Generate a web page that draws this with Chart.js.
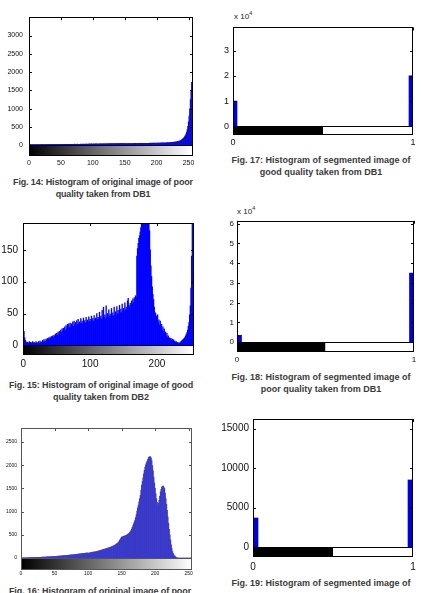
<!DOCTYPE html>
<html>
<head>
<meta charset="utf-8">
<script src="https://cdn.jsdelivr.net/npm/chart.js@4.4.1/dist/chart.umd.min.js"></script>
<style>
  body { margin: 0; width: 421px; height: 593px; overflow: hidden; background: #fff; position: relative; font-family: "Liberation Sans", Arial, sans-serif; }
  canvas { position: absolute; }
  .cap { position: absolute; width: 200px; font-weight: bold; font-size: 9px; line-height: 12px; color: #3a3a3a; text-align: center; white-space: nowrap; }
  .exp { position: absolute; font-size: 8px; color: #222; }
  .exp sup { font-size: 5.5px; }
</style>
</head>
<body>
<div class="cap" style="left:3px;top:176px;letter-spacing:-0.15px">Fig. 14: Histogram of original image of poor<br>quality taken from DB1</div>
<div class="cap" style="left:221px;top:154px">Fig. 17: Histogram of segmented image of<br>good quality taken from DB1</div>
<div class="cap" style="left:1px;top:379px;letter-spacing:-0.1px">Fig. 15: Histogram of original image of good<br>quality taken from DB2</div>
<div class="cap" style="left:221px;top:371px">Fig. 18: Histogram of segmented image of<br>poor quality taken from DB1</div>
<div class="cap" style="left:0px;top:585px;letter-spacing:-0.1px">Fig. 16: Histogram of original image of poor</div>
<div class="cap" style="left:221px;top:577px">Fig. 19: Histogram of segmented image of</div>
<div class="exp" style="left:234px;top:10px">x 10<sup>4</sup></div>
<div class="exp" style="left:237px;top:205px">x 10<sup>4</sup></div>

<script>
// gray levels and binary levels
const grayLevels = Array.from({length: 256}, (_, i) => i);
const binLevels = [0, 1];

// Fig. 14: original image, poor quality, DB1
const poorDb1Counts = [
  18, 22, 15, 20, 24, 17, 21, 19, 23, 16,
  20, 25, 18, 22, 19, 24, 21, 17, 23, 20,
  22, 19, 25, 21, 18, 24, 20, 23, 26, 19,
  21, 25, 22, 27, 20, 24, 23, 19, 26, 22,
  25, 21, 27, 23, 24, 28, 22, 26, 25, 29,
  23, 27, 25, 30, 24, 28, 26, 31, 25, 29,
  27, 24, 30, 28, 26, 32, 27, 29, 31, 26,
  30, 28, 33, 27, 31, 29, 34, 28, 32, 30,
  29, 33, 31, 35, 30, 34, 32, 36, 31, 35,
  33, 38, 32, 36, 35, 39, 33, 37, 40, 34,
  38, 36, 41, 35, 39, 37, 42, 36, 40, 38,
  37, 41, 39, 43, 38, 42, 40, 44, 39, 43,
  41, 45, 40, 44, 43, 47, 42, 46, 44, 48,
  43, 47, 45, 49, 44, 48, 46, 50, 45, 49,
  47, 51, 46, 50, 49, 53, 48, 52, 50, 54,
  44, 48, 46, 50, 45, 49, 47, 51, 46, 50,
  48, 52, 47, 51, 50, 54, 49, 53, 51, 55,
  50, 54, 52, 56, 51, 55, 53, 57, 52, 56,
  54, 58, 53, 57, 55, 59, 54, 58, 56, 60,
  55, 60, 58, 62, 57, 61, 60, 64, 59, 63,
  58, 63, 61, 65, 60, 66, 62, 67, 64, 68,
  63, 69, 66, 70, 65, 72, 68, 74, 70, 76,
  72, 78, 75, 82, 78, 86, 82, 90, 86, 95,
  92, 100, 98, 108, 105, 118, 115, 128, 130, 145,
  165, 180, 195, 215, 240, 270, 310, 360, 430, 520,
  640, 800, 1000, 1250, 1500, 1720
];

// Fig. 15: original image, good quality, DB2
const goodDb2Counts = [
  75, 22, 12, 8, 6, 4, 5, 3, 4, 6,
  3, 5, 4, 2, 6, 3, 5, 4, 3, 6,
  4, 3, 5, 6, 3, 7, 4, 5, 6, 8,
  5, 9, 7, 6, 10, 8, 11, 9, 12, 10,
  13, 11, 14, 12, 15, 13, 16, 14, 18, 15,
  19, 16, 21, 17, 22, 19, 24, 20, 26, 22,
  27, 23, 29, 24, 31, 26, 33, 27, 34, 28,
  35, 29, 34, 31, 37, 30, 38, 32, 36, 31,
  39, 33, 41, 34, 37, 33, 42, 35, 38, 34,
  43, 36, 39, 35, 44, 37, 40, 36, 45, 38,
  41, 37, 46, 39, 42, 38, 47, 40, 43, 39,
  50, 41, 44, 40, 52, 42, 46, 41, 55, 43,
  60, 44, 48, 42, 62, 45, 50, 43, 56, 46,
  49, 45, 58, 47, 51, 46, 60, 48, 53, 47,
  61, 50, 55, 49, 63, 52, 57, 51, 65, 54,
  58, 53, 67, 56, 60, 55, 70, 74, 63, 60,
  66, 62, 70, 65, 73, 68, 75, 72, 78, 76,
  140, 152, 160, 168, 172, 178, 185, 190, 205, 230,
  260, 290, 310, 300, 280, 255, 235, 215, 198, 180,
  150, 125, 108, 92, 80, 72, 60, 52, 50, 46,
  44, 48, 36, 40, 32, 38, 28, 33, 24, 29,
  22, 26, 18, 21, 15, 19, 13, 15, 11, 12,
  10, 11, 8, 10, 7, 9, 6, 7, 5, 6,
  5, 4, 4, 3, 4, 5, 6, 7, 8, 9,
  10, 11, 13, 15, 18, 20, 24, 30, 36, 48,
  62, 90, 140, 200, 240, 260
];

// Fig. 16: original image, poor quality, DB2
const poorDb2Counts = [
  2, 3, 4, 4, 5, 5, 6, 6, 7, 7,
  8, 8, 9, 9, 10, 10, 11, 11, 12, 12,
  13, 13, 14, 14, 15, 16, 16, 17, 18, 18,
  19, 20, 20, 21, 22, 23, 23, 24, 25, 26,
  27, 28, 28, 29, 30, 31, 32, 33, 34, 35,
  36, 37, 38, 39, 40, 41, 42, 44, 45, 46,
  47, 48, 50, 51, 52, 54, 55, 56, 58, 59,
  60, 62, 63, 64, 66, 68, 69, 71, 72, 74,
  76, 77, 79, 81, 83, 85, 87, 88, 90, 92,
  94, 96, 98, 100, 102, 104, 106, 108, 110, 112,
  105, 108, 112, 115, 118, 121, 124, 127, 130, 133,
  130, 134, 138, 142, 146, 150, 154, 158, 162, 167,
  172, 176, 181, 186, 190, 195, 200, 206, 211, 216,
  215, 221, 227, 233, 239, 245, 252, 258, 265, 272,
  280, 290, 300, 312, 322, 335, 355, 380, 405, 430,
  450, 458, 464, 470, 474, 478, 484, 492, 500, 510,
  520, 535, 552, 570, 595, 625, 660, 700, 740, 780,
  820, 870, 935, 1010, 1080, 1140, 1210, 1280, 1350, 1460,
  1570, 1650, 1730, 1815, 1890, 1960, 2010, 2050, 2085, 2120,
  2160, 2175, 2185, 2180, 2160, 2100, 1990, 1880, 1745, 1620,
  1500, 1390, 1280, 1200, 1140, 1180, 1245, 1330, 1425, 1480,
  1530, 1545, 1550, 1530, 1500, 1400, 1280, 1160, 1030, 890,
  750, 620, 500, 390, 285, 205, 140, 100, 70, 50,
  35, 22, 10, 5, 2, 0, 0, 0, 0, 0,
  0, 0, 0, 0, 0, 0, 0, 0, 0, 0,
  0, 0, 0, 0, 0, 0
];

// Figs. 17-19: segmented (binary) images
const goodDb1SegCounts = [10000, 20000];
const poorDb1SegCounts = [3500, 35000];
const poorDb2SegCounts = [3700, 8500];

// tick labels
const grayTicks50 = [0, 50, 100, 150, 200, 250];
const grayTicks100 = [0, 100, 200];
const binTicks = [0, 1];
const fig14YTicks = [0, 500, 1000, 1500, 2000, 2500, 3000];
const fig15YTicks = [0, 50, 100, 150];
const fig16YTicks = [0, 500, 1000, 1500, 2000, 2500];
const fig17YTicks = [0, 10000, 20000, 30000];
const fig18YTicks = [0, 10000, 20000, 30000, 40000, 50000, 60000];
const fig19YTicks = [0, 5000, 10000, 15000];

// matlab style box, inward ticks and colour bar under zero
const frame = {
  id: 'frame',
  afterDatasetsDraw(chart, args, opts) {
    const {ctx, chartArea: a, scales: {x, y}} = chart;
    const y0 = Math.round(y.getPixelForValue(0));
    ctx.save();
    if (opts.bar === 'gray') {
      const g = ctx.createLinearGradient(x.getPixelForValue(0), 0, x.getPixelForValue(255), 0);
      g.addColorStop(0, '#000');
      g.addColorStop(1, '#fff');
      ctx.fillStyle = g;
      ctx.fillRect(a.left, y0, a.right - a.left, a.bottom - y0);
    } else {
      const xm = x.getPixelForValue(0.5);
      ctx.fillStyle = '#000';
      ctx.fillRect(a.left, y0, xm - a.left, a.bottom - y0);
      ctx.fillStyle = '#fff';
      ctx.fillRect(xm, y0, a.right - xm, a.bottom - y0);
    }
    ctx.strokeStyle = opts.edge;
    ctx.lineWidth = 1;
    ctx.beginPath();
    ctx.moveTo(a.left, y0 + 0.5);
    ctx.lineTo(a.right, y0 + 0.5);
    y.ticks.forEach(t => {
      const p = Math.round(y.getPixelForValue(t.value)) + 0.5;
      ctx.moveTo(a.left, p); ctx.lineTo(a.left + 3, p);
      ctx.moveTo(a.right - 3, p); ctx.lineTo(a.right, p);
    });
    x.ticks.forEach(t => {
      const p = Math.round(x.getPixelForValue(t.value)) + 0.5;
      ctx.moveTo(p, a.top); ctx.lineTo(p, a.top + 3);
    });
    ctx.stroke();
    ctx.strokeRect(Math.round(a.left) + 0.5, Math.round(a.top) + 0.5,
      Math.round(a.right - a.left) - 1, Math.round(a.bottom - a.top) - 1);
    ctx.restore();
  }
};

const panels = [
  {L: 29, R: 193, T: 13, B: 156, yw: 29, xMin: 0, xMax: 257, yMin: -290, yMax: 3500,
   levels: grayLevels, counts: poorDb1Counts, xTicks: grayTicks50, yTicks: fig14YTicks,
   color: '#0a0ad2', bar: 'gray', font: 7, xPad: 3, yPad: 6, edge: '#000'},
  {L: 233, R: 413, T: 24, B: 135, yw: 30, xMin: 0, xMax: 1, yMin: -3460, yMax: 39200,
   levels: binLevels, counts: goodDb1SegCounts, xTicks: binTicks, yTicks: fig17YTicks, exp: true,
   color: '#0000d8', bar: 'bin', thick: 8, font: 9, xPad: 2, yPad: 4, edge: '#000'},
  {L: 23, R: 194, T: 218, B: 355, yw: 23, xMin: -0.5, xMax: 255.5, yMin: -15, yMax: 192,
   levels: grayLevels, counts: goodDb2Counts, xTicks: grayTicks100, yTicks: fig15YTicks,
   color: '#0000ff', bar: 'gray', font: 10, xPad: 3, yPad: 5, edge: '#000'},
  {L: 237, R: 414, T: 219, B: 352, yw: 30, xMin: 0, xMax: 1, yMin: -5000, yMax: 61500,
   levels: binLevels, counts: poorDb1SegCounts, xTicks: binTicks, yTicks: fig18YTicks, exp: true,
   color: '#0000d8', bar: 'bin', thick: 9, font: 8, xPad: 3, yPad: 3, edge: '#000'},
  {L: 21, R: 192, T: 427, B: 570, yw: 21, xMin: 0, xMax: 255, yMin: -256, yMax: 2800,
   levels: grayLevels, counts: poorDb2Counts, xTicks: grayTicks50, yTicks: fig16YTicks,
   color: '#3a3ac8', bar: 'gray', font: 5, xPad: 1, yPad: 4, edge: '#555'},
  {L: 253, R: 413, T: 415, B: 557, yw: 40, xMin: 0, xMax: 1, yMin: -1230, yMax: 16200,
   levels: binLevels, counts: poorDb2SegCounts, xTicks: binTicks, yTicks: fig19YTicks,
   color: '#0000d8', bar: 'bin', thick: 10, font: 10, xPad: 4, yPad: 4, edge: '#000'}
];

const pt = 6, pr = 12, xh = 18;

panels.forEach(p => {
  const c = document.createElement('canvas');
  c.width = p.yw + (p.R - p.L) + pr;
  c.height = pt + (p.B - p.T) + xh;
  c.style.left = (p.L - p.yw) + 'px';
  c.style.top = (p.T - pt) + 'px';
  document.body.appendChild(c);

  const font = {family: '"Liberation Sans", Arial, sans-serif', size: p.font};
  new Chart(c, {
    type: 'bar',
    data: {
      datasets: [{
        data: p.levels.map((lv, i) => ({x: lv, y: p.counts[i]})),
        backgroundColor: p.color,
        borderWidth: 0,
        barPercentage: 1,
        categoryPercentage: 1,
        barThickness: p.thick,
        clip: 0
      }]
    },
    options: {
      responsive: false,
      animation: false,
      layout: {padding: {top: pt, right: pr, left: 0, bottom: 0}},
      plugins: {legend: {display: false}, tooltip: {enabled: false}, frame: {bar: p.bar, edge: p.edge}},
      scales: {
        x: {
          type: 'linear', offset: false, min: p.xMin, max: p.xMax,
          grid: {display: false, drawTicks: false}, border: {display: false},
          afterBuildTicks: s => { s.ticks = p.xTicks.map(v => ({value: v})); },
          afterFit: s => { s.height = xh; },
          ticks: {font, color: '#111', padding: p.xPad, maxRotation: 0, autoSkip: false, callback: v => String(v)}
        },
        y: {
          min: p.yMin, max: p.yMax,
          grid: {display: false, drawTicks: false}, border: {display: false},
          afterBuildTicks: s => { s.ticks = p.yTicks.map(v => ({value: v})); },
          afterFit: s => { s.width = p.yw; },
          ticks: {font, color: '#111', padding: p.yPad, autoSkip: false,
            callback: v => p.exp ? String(v / 10000) : String(v)}
        }
      }
    },
    plugins: [frame]
  });
});
</script>
</body>
</html>
